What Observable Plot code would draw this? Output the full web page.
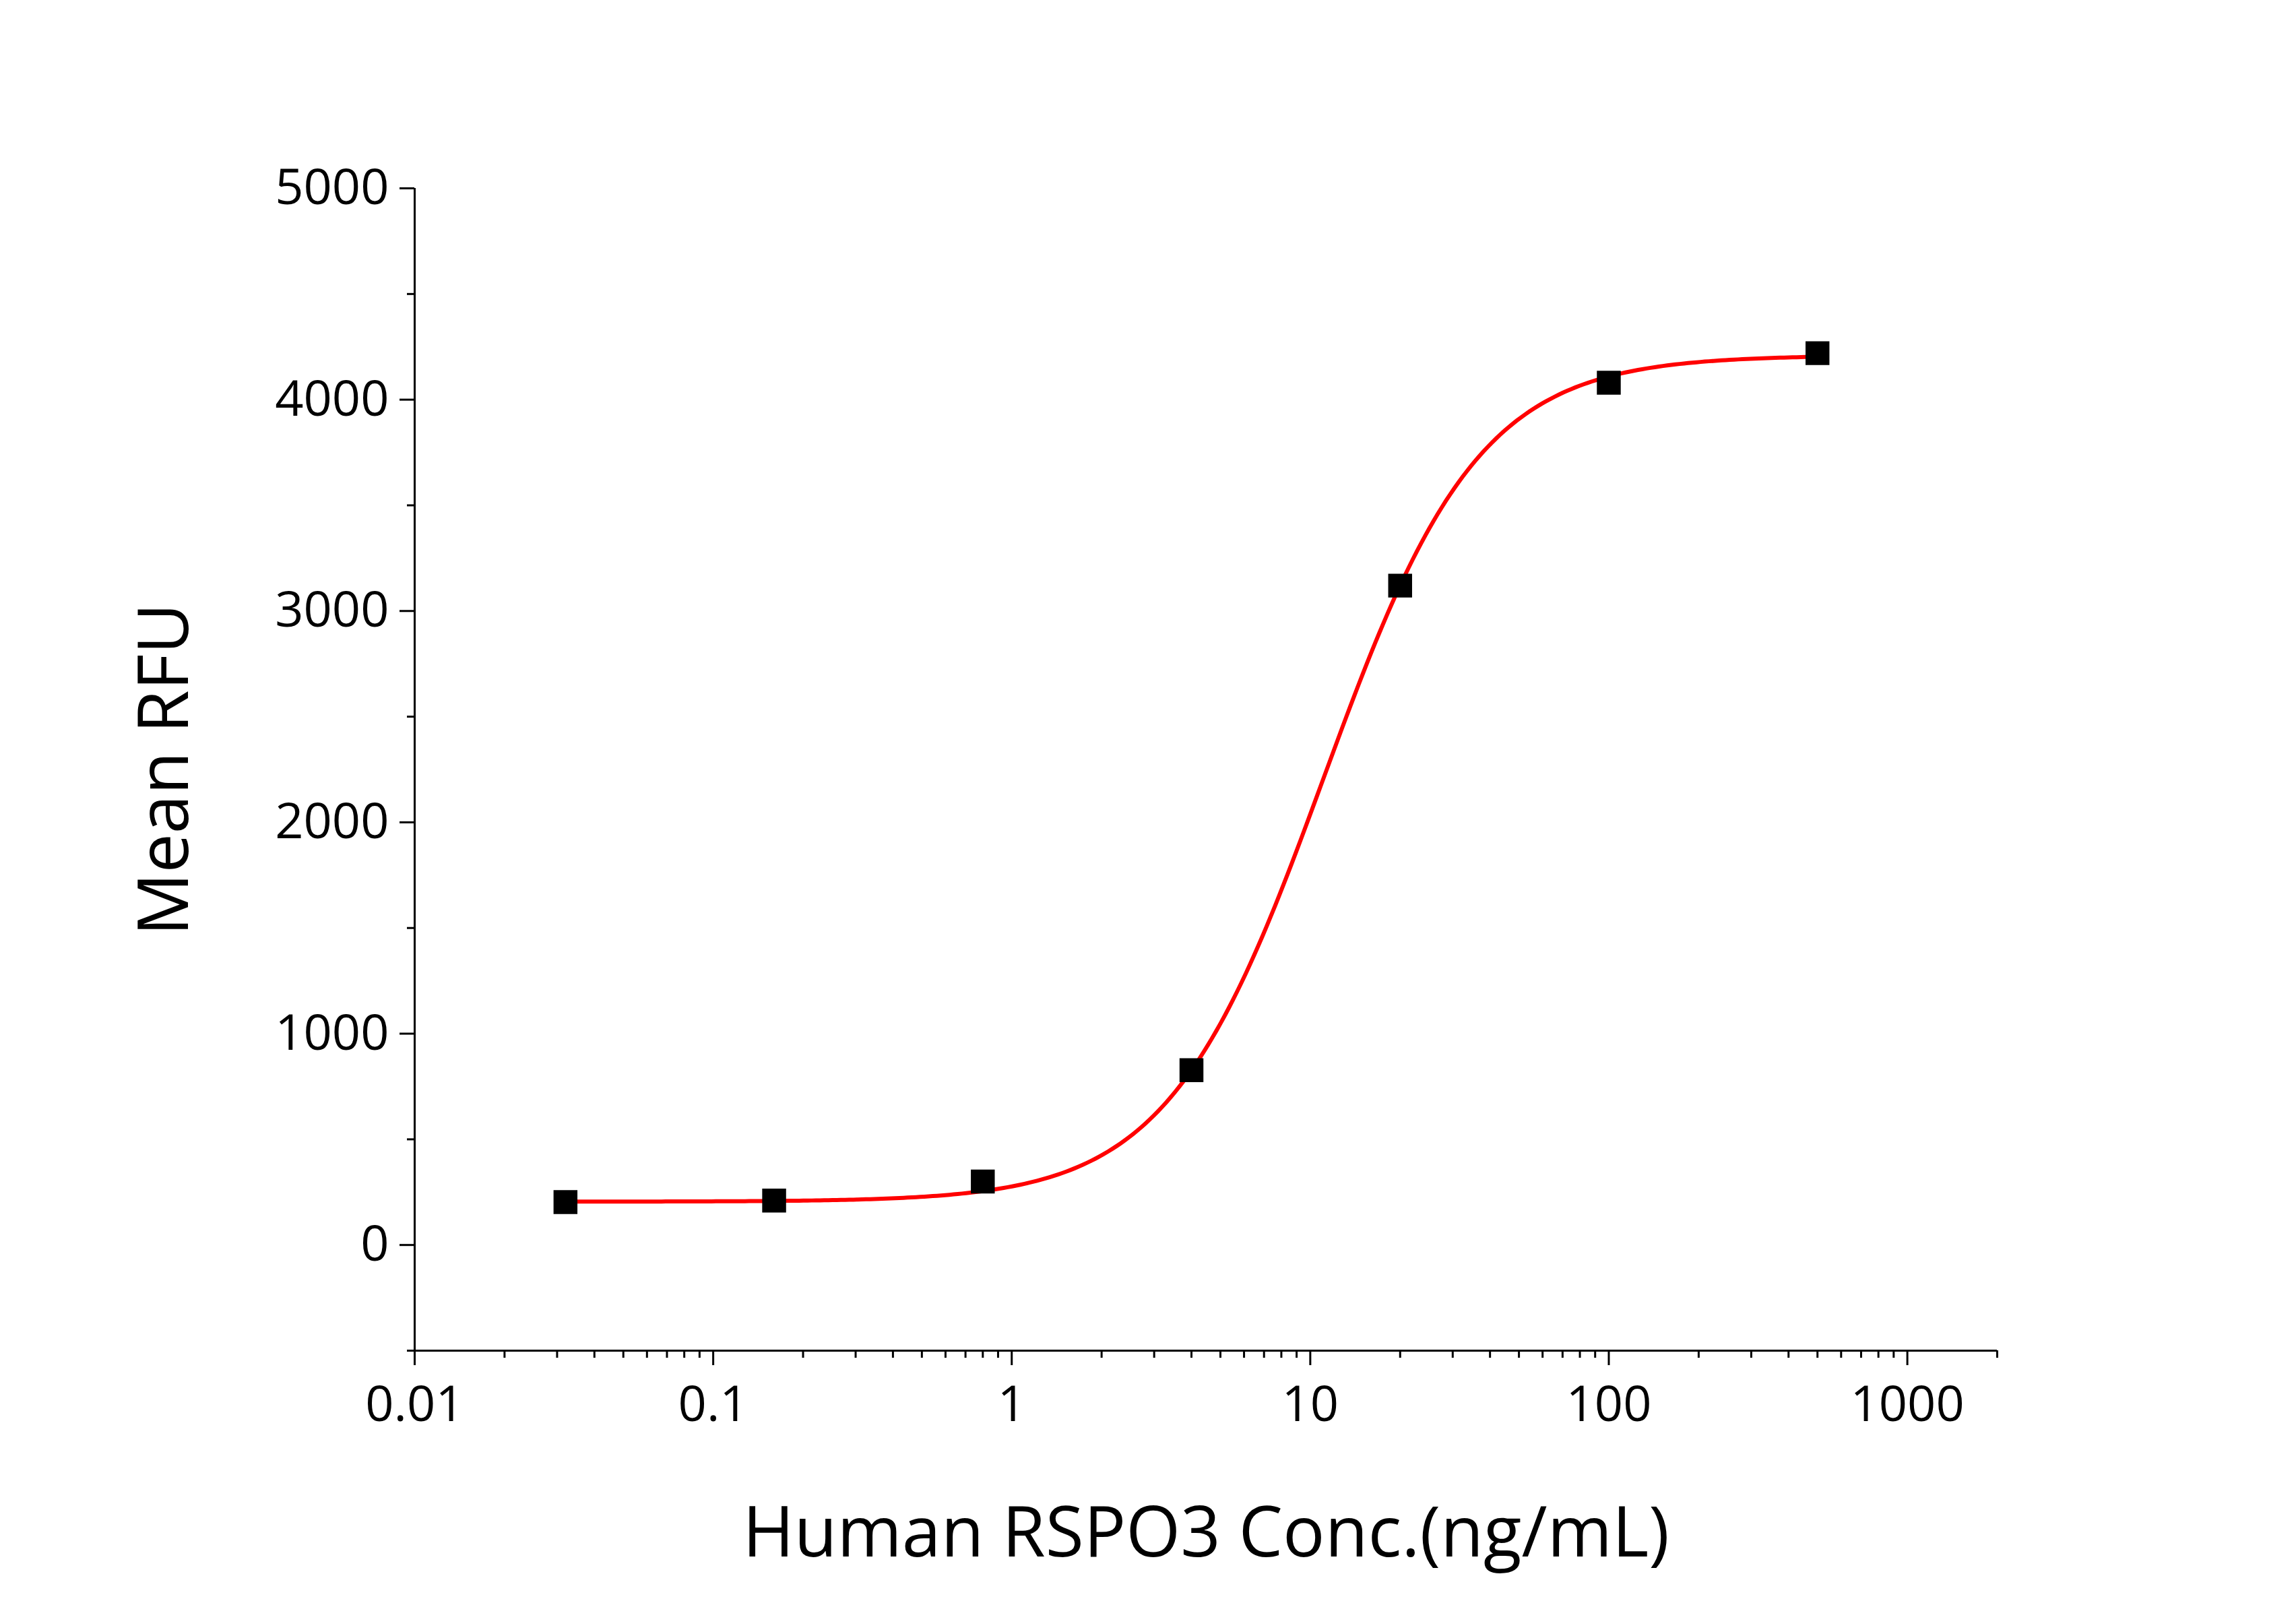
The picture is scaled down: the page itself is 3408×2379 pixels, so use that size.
<!DOCTYPE html>
<html><head><meta charset="utf-8">
<script src="https://cdn.jsdelivr.net/npm/d3@7"></script>
<script src="https://cdn.jsdelivr.net/npm/@observablehq/plot@0.6"></script>
<style>body{margin:0;background:#fff}</style>
</head><body><div id="c"></div>
<script>
const conc = [0.032, 0.16, 0.8, 4, 20, 100, 500];
const rfu = [203, 210, 300, 827, 3120, 4080, 4220];
// 4-parameter logistic fit parameters (estimated from the red fit line)
const fitBottom = 205, fitTop = 4210, fitEC50 = 11.07, fitHill = 1.664;
const xMajor = [0.01, 0.1, 1, 10, 100, 1000];
const yMajor = [0, 1000, 2000, 3000, 4000, 5000];
const yMinor = [-500, 500, 1500, 2500, 3500, 4500];

const points = conc.map((c, i) => ({c, v: rfu[i]}));
const xMinor = [];
for (const d of [0.01, 0.1, 1, 10, 100, 1000]) for (let k = 2; k <= 9; k++) if (d*k <= 2000) xMinor.push(d*k);
const curve = d3.range(0, 301).map(i => {
  const c = Math.pow(10, Math.log10(0.032) + i/300*(Math.log10(500)-Math.log10(0.032)));
  return {c, v: fitBottom + (fitTop-fitBottom)/(1+Math.pow(fitEC50/c, fitHill))};
});
const font = "'Open Sans', Carlito, sans-serif";
const chart = Plot.plot({
  width: 3408, height: 2379,
  marginLeft: 615, marginRight: 444, marginTop: 279, marginBottom: 375,
  style: {fontFamily: font, background: "#fff"},
  x: {type: "log", domain: [0.01, 2000]},
  y: {domain: [-500, 5000]},
  marks: [
    Plot.axisY({ticks: yMinor, tickSize: 11, text: null, label: null, strokeWidth: 3}),
    Plot.axisY({ticks: yMajor, tickSize: 22, tickPadding: 16, tickFormat: d => String(d), fontSize: 74, strokeWidth: 3,
      label: "Mean RFU", labelAnchor: "center", labelArrow: "none", labelOffset: 410}),
    Plot.axisX({ticks: xMinor, tickSize: 11, text: null, label: null, strokeWidth: 3}),
    Plot.axisX({ticks: xMajor, tickSize: 22, tickPadding: 30, tickFormat: d => String(d), fontSize: 74, strokeWidth: 3,
      label: "Human RSPO3 Conc.(ng/mL)", labelAnchor: "center", labelArrow: "none", labelOffset: 305}),
    Plot.ruleX([0.01], {stroke: "#000", strokeWidth: 3}),
    Plot.ruleY([-500], {stroke: "#000", strokeWidth: 3}),
    Plot.line(curve, {x: "c", y: "v", stroke: "#ff0000", strokeWidth: 6}),
    Plot.dot(points, {x: "c", y: "v", symbol: "square", r: 20, fill: "#000", stroke: "none"})
  ]
});
chart.querySelectorAll("g[aria-label='y-axis label'] text, g[aria-label='x-axis label'] text").forEach(t => t.setAttribute("font-size", "104"));
document.getElementById("c").appendChild(chart);
</script></body></html>
